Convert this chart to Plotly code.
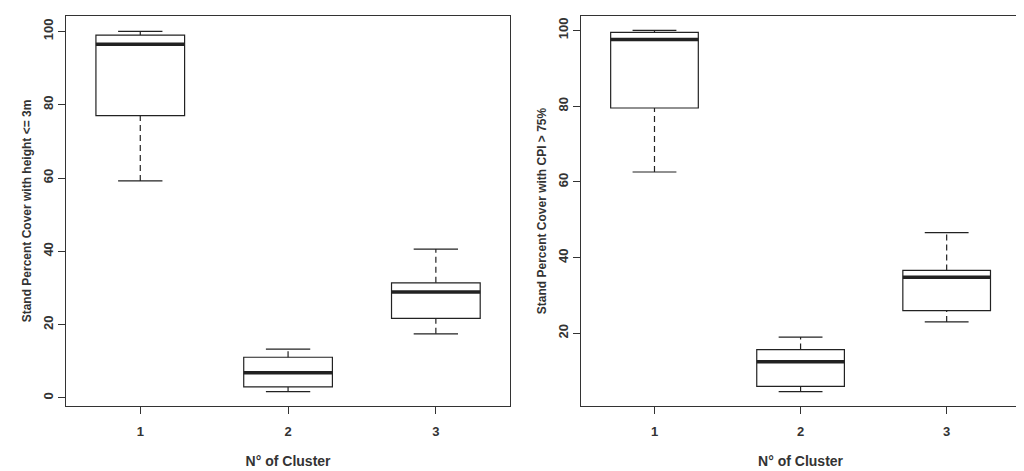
import plotly.graph_objects as go

clusters = [1, 2, 3]
# Left panel: height <= 3m
l_low = [59.2, 1.7, 17.5]
l_q1 = [77.0, 3.0, 21.7]
l_med = [96.5, 6.9, 28.9]
l_q3 = [99.0, 11.1, 31.4]
l_high = [100.0, 13.3, 40.6]
# Right panel: CPI > 75%
r_low = [62.6, 4.6, 23.0]
r_q1 = [79.5, 6.0, 26.0]
r_med = [97.6, 12.5, 34.8]
r_q3 = [99.5, 15.7, 36.6]
r_high = [100.0, 19.0, 46.6]

W = 0.6
fig = go.Figure()
col = "#222"

def panel(xa, ya, low, q1, med, q3, high):
    fig.add_trace(go.Box(x=clusters, q1=q1, median=med, q3=q3, lowerfence=q1, upperfence=q3,
                         width=W, fillcolor="white", line=dict(color=col, width=1.2),
                         xaxis=xa, yaxis=ya, showlegend=False, hoverinfo="skip"))
    for i, c in enumerate(clusters):
        fig.add_trace(go.Scatter(x=[c - W/2, c + W/2], y=[med[i], med[i]], mode="lines",
                                 line=dict(color=col, width=3.5), xaxis=xa, yaxis=ya, showlegend=False))
        for a, b in ((low[i], q1[i]), (q3[i], high[i])):
            fig.add_trace(go.Scatter(x=[c, c], y=[a, b], mode="lines",
                                     line=dict(color=col, width=1.2, dash="6px,4px"), xaxis=xa, yaxis=ya, showlegend=False))
        for v in (low[i], high[i]):
            fig.add_trace(go.Scatter(x=[c - W/4, c + W/4], y=[v, v], mode="lines",
                                     line=dict(color=col, width=1.2), xaxis=xa, yaxis=ya, showlegend=False))

panel("x", "y", l_low, l_q1, l_med, l_q3, l_high)
panel("x2", "y2", r_low, r_q1, r_med, r_q3, r_high)

tf = dict(family="Liberation Sans, Arial", size=13, color="#333", weight="bold")
ax = dict(showgrid=False, zeroline=False, showline=True, mirror=True, linecolor="#333",
          linewidth=1.2, ticks="outside", ticklen=7, tickcolor="#333", tickfont=tf)
fig.update_layout(
    width=1024, height=471, paper_bgcolor="white", plot_bgcolor="white",
    margin=dict(l=0, r=0, t=0, b=0),
    xaxis=dict(ax, domain=[0.057, 0.49], range=[0.5, 3.5], tickvals=clusters,
               title=dict(text="<b>N° of Cluster</b>", font=dict(tf, size=14), standoff=18)),
    yaxis=dict(ax, domain=[0.155, 0.983], range=[-2.2, 104.2], tickvals=[0, 20, 40, 60, 80, 100], tickangle=-90,
               title=dict(text="<b>Stand Percent Cover with height <= 3m</b>", font=dict(tf, size=12), standoff=6)),
    xaxis2=dict(ax, domain=[0.56, 0.988], range=[0.5, 3.5], tickvals=clusters, anchor="y2",
                title=dict(text="<b>N° of Cluster</b>", font=dict(tf, size=14), standoff=18)),
    yaxis2=dict(ax, domain=[0.155, 0.983], range=[0.8, 103.8], tickvals=[20, 40, 60, 80, 100], tickangle=-90, anchor="x2",
                title=dict(text="<b>Stand Percent Cover with CPI > 75%</b>", font=dict(tf, size=12), standoff=6)),
)
fig.update_xaxes(ticklabelstandoff=6)
fig.write_html("out.html")
